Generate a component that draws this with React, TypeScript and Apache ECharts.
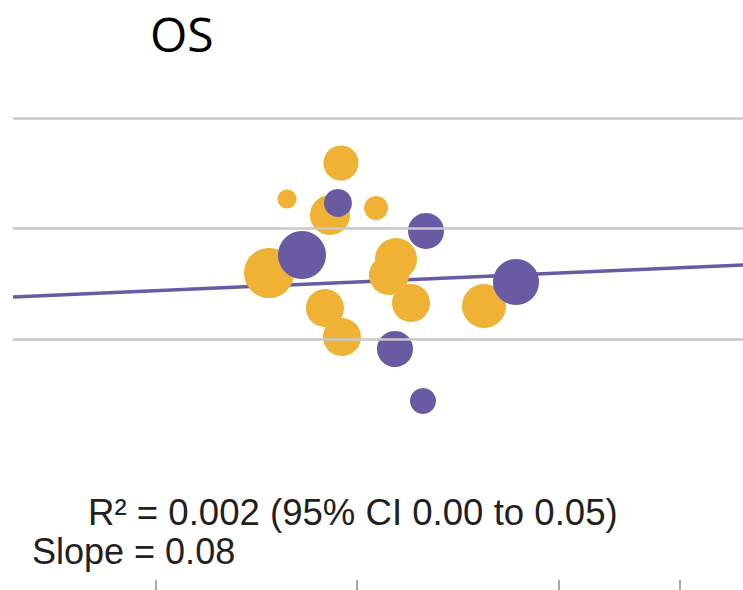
import React, { useEffect, useRef } from "react";
import * as echarts from "echarts";

// Orange trials: [x, y, n]
const orangeX = [-0.0159, -0.0695, -0.0268, 0.0189, -0.0873, -0.0318, -0.0149, 0.0387, 0.0318, 0.0536, 0.1261];
const orangeY = [0.3186, 0.2534, 0.2244, 0.2371, 0.1195, 0.0561, 0.0036, 0.1448, 0.1158, 0.0652, 0.0597];
const orangeN = [479, 141, 625, 225, 977, 564, 564, 689, 625, 564, 756];

// Purple trials
const purpleX = [-0.0189, -0.0546, 0.0685, 0.1578, 0.0377, 0.0655];
const purpleY = [0.2462, 0.152, 0.1955, 0.1032, -0.0181, -0.1122];
const purpleN = [306, 900, 506, 827, 506, 264];

// Regression line endpoints
const lineX = [-0.3414, 0.3831];
const lineY = [0.076, 0.134];

// Reference grid values and x ticks
const gridValues = [0.4, 0.2, 0.0];
const xTicks = [-0.2, 0, 0.2, 0.32];

const titleText = "OS";
const statLine1 = "R\u00B2 = 0.002 (95% CI 0.00 to 0.05)";
const statLine2 = "Slope = 0.08";

const ORANGE = "#F0B234";
const PURPLE = "#685AA3";

export default function App() {
  const ref = useRef<HTMLDivElement>(null);

  useEffect(() => {
    document.body.style.margin = "0";
    if (!ref.current) return;
    const chart = echarts.init(ref.current, null, { renderer: "svg" });

    const orangeData = orangeX.map((x, i) => [x, orangeY[i], orangeN[i]]);
    const purpleData = purpleX.map((x, i) => [x, purpleY[i], purpleN[i]]);
    const lineData = lineX.map((x, i) => [x, lineY[i]]);

    chart.setOption({
      animation: false,
      backgroundColor: "#ffffff",
      title: {
        text: titleText,
        left: 145,
        top: 4,
        textStyle: {
          fontFamily: "Open Sans",
          fontSize: 48,
          fontWeight: "normal",
          color: "#000000",
          lineHeight: 48,
        },
      },
      grid: { left: 13, right: 0, top: 118, bottom: 10 },
      xAxis: {
        type: "value",
        min: -0.3414,
        max: 0.3831,
        axisLine: { show: false, onZero: false },
        axisLabel: { show: false },
        splitLine: { show: false },
        axisTick: {
          show: true,
          inside: false,
          length: 10,
          customValues: xTicks,
          lineStyle: { color: "#A8A8A8", width: 2 },
        },
      },
      yAxis: {
        type: "value",
        min: -0.4362,
        max: 0.4,
        axisLine: { show: false },
        axisLabel: { show: false },
        axisTick: { show: false },
        splitLine: { show: false },
      },
      series: [
        {
          type: "line",
          data: lineData,
          z: 1,
          symbol: "none",
          lineStyle: { color: PURPLE, width: 3.5 },
          silent: true,
          markLine: {
            silent: true,
            symbol: "none",
            label: { show: false },
            lineStyle: { color: "#C8C8C8", width: 2.5, type: "solid" },
            data: gridValues.map((v) => ({ yAxis: v })),
          },
        },
        {
          type: "scatter",
          z: 2,
          clip: false,
          data: orangeData,
          symbolSize: (v: number[]) => Math.sqrt(v[2]) * 1.6,
          itemStyle: { color: ORANGE, opacity: 1 },
        },
        {
          type: "scatter",
          z: 3,
          clip: false,
          data: purpleData,
          symbolSize: (v: number[]) => Math.sqrt(v[2]) * 1.6,
          itemStyle: { color: PURPLE, opacity: 1 },
        },
      ],
      graphic: [
        {
          type: "text",
          left: 88,
          top: 494,
          style: {
            text: statLine1,
            font: "36.6px 'Liberation Sans'",
            fill: "#231F20",
          },
        },
        {
          type: "text",
          left: 32,
          top: 533,
          style: {
            text: statLine2,
            font: "36px 'Liberation Sans'",
            fill: "#231F20",
          },
        },
      ],
    });

    return () => chart.dispose();
  }, []);

  return (
    <div
      ref={ref}
      style={{ position: "absolute", left: 0, top: 0, width: 743, height: 590 }}
    />
  );
}
